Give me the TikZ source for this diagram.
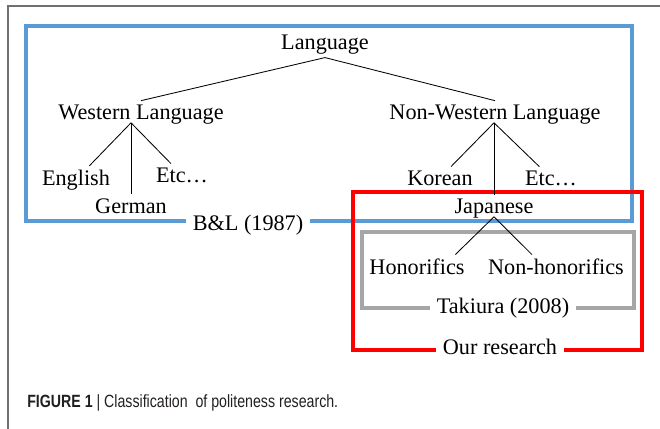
\documentclass[tikz,border=0pt]{standalone}
\usepackage{fontspec}
\setmainfont{Liberation Serif}
\newfontfamily\capfont[FakeStretch=0.8]{Liberation Sans}
\usepackage{tikz}
\usetikzlibrary{positioning, calc}
\usepackage{xcolor}
\definecolor{BLBlue}{HTML}{5B9BD5}
\definecolor{OurRed}{HTML}{FF0000}
\definecolor{TakGray}{HTML}{A6A6A6}
\definecolor{Frame}{HTML}{707070}
\definecolor{Caption}{HTML}{231F20}

\begin{document}
\begin{tikzpicture}[
    x=0.025cm, y=-0.025cm,
    word/.style={anchor=base, inner sep=2.5pt, font=\fontsize{15.8}{18}\selectfont},
    fork/.style={word, text depth=0pt},
    tag/.style={word, fill=white, inner xsep=5pt, inner ysep=1pt},
    branch/.style={draw=black, line width=0.6pt},
    area/.style={line width=2.2pt}
]
\useasboundingbox (0,0) rectangle (660,429);

% Frame
\draw[Frame, line width=1pt] (8,429) -- (8,6) -- (660,6);

% Boxes
\draw[area, BLBlue] (26,26) rectangle (632,221);
\draw[area, TakGray] (362,232) rectangle (634,308);
\draw[area, OurRed] (353,192) rectangle (642,350);

% Languages
\node[word] (lang) at (325,49) {Language};
\node[fork] (west) at (141,119) {Western Language};
\node[fork] (nonwest) at (495,119) {Non-Western Language};

% Western side
\node[word] (english) at (76,185) {English};
\node[word] (german) at (131,213) {German};
\node[word] (etcwest) at (182,182) {Etc…};

% Non-Western side
\node[word] (korean) at (440,185) {Korean};
\node[word] (etcnon) at (551,185) {Etc…};
\node[fork] (japanese) at (494,213) {Japanese};
\node[word] (honor) at (417,274) {Honorifics};
\node[word] (nonhonor) at (556,274) {Non-honorifics};

% Box labels
\node[tag] (bl) at (248,230) {B\&L (1987)};
\node[tag] (takiura) at (503,313) {Takiura (2008)};
\node[tag] (ours) at (500,354) {Our research};

% Branches
\draw[branch] (lang.south) -- (west.north);
\draw[branch] (lang.south) -- (nonwest.north);
\coordinate (westfork) at (west.south -| german.north);
\draw[branch] (westfork) -- (english);
\draw[branch] (westfork) -- (german.north);
\draw[branch] (westfork) -- (etcwest);
\coordinate (nonfork) at (nonwest.south -| japanese.north);
\draw[branch] (nonfork) -- (korean);
\draw[branch] (nonfork) -- (japanese.north);
\draw[branch] (nonfork) -- (etcnon);
\draw[branch] (japanese.south) -- (honor.17);
\draw[branch] (japanese.south) -- (nonhonor.154);

% Caption
\node[anchor=base west, inner sep=0pt, text=Caption, font=\capfont\fontsize{12.6}{14}\selectfont] (caption) at (27,407)
    {\textbf{FIGURE 1} | Classification\ \ of politeness research.};

\end{tikzpicture}
\end{document}
